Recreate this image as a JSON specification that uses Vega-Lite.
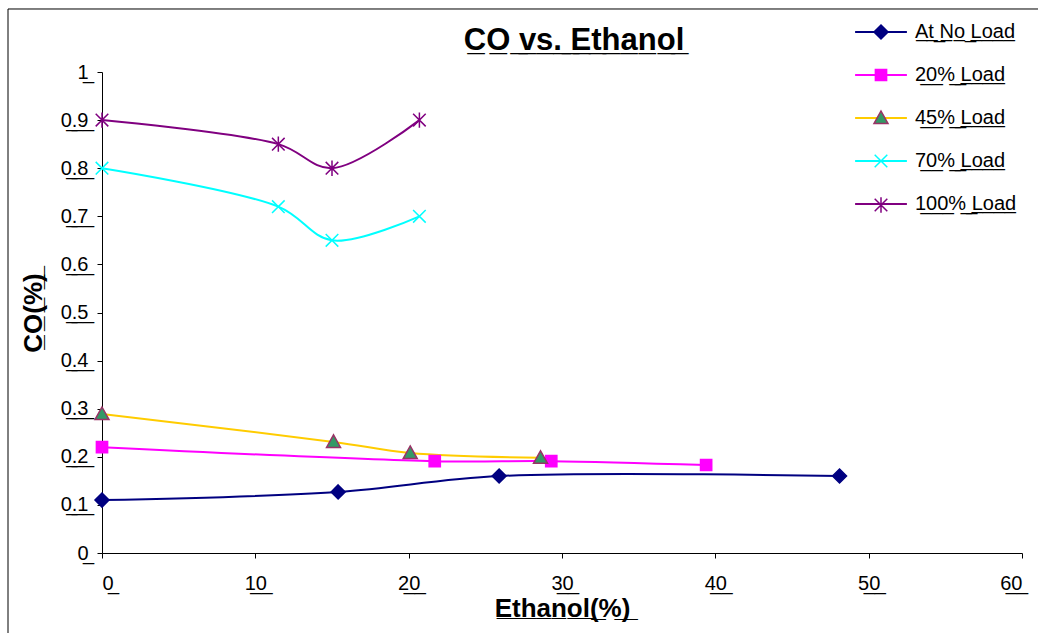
{
  "$schema": "https://vega.github.io/schema/vega-lite/v6.json",
  "width": 920,
  "height": 481,
  "autosize": {"type": "none"},
  "padding": {"left": 102, "top": 72, "right": 16, "bottom": 80},
  "background": "white",
  "config": {
    "view": {"stroke": null},
    "font": "Liberation Sans"
  },
  "title": {
    "text": "C\u0332O\u0332 \u0332v\u0332s\u0332.\u0332 \u0332E\u0332t\u0332h\u0332a\u0332n\u0332o\u0332l\u0332",
    "font": "Liberation Sans",
    "fontSize": 31,
    "fontWeight": "bold",
    "color": "black",
    "anchor": "middle",
    "frame": "group",
    "baseline": "alphabetic",
    "dx": 12,
    "offset": -73
  },
  "data": {
    "values": [
      {"series": "At No Load", "ethanol": 0, "co": 0.11},
      {"series": "At No Load", "ethanol": 15.4, "co": 0.127},
      {"series": "At No Load", "ethanol": 25.9, "co": 0.16},
      {"series": "At No Load", "ethanol": 48.1, "co": 0.16},
      {"series": "20% Load", "ethanol": 0, "co": 0.22},
      {"series": "20% Load", "ethanol": 21.7, "co": 0.191},
      {"series": "20% Load", "ethanol": 29.3, "co": 0.191},
      {"series": "20% Load", "ethanol": 39.4, "co": 0.183},
      {"series": "45% Load", "ethanol": 0, "co": 0.289},
      {"series": "45% Load", "ethanol": 15.1, "co": 0.231},
      {"series": "45% Load", "ethanol": 20.1, "co": 0.208},
      {"series": "45% Load", "ethanol": 28.6, "co": 0.198},
      {"series": "70% Load", "ethanol": 0, "co": 0.8},
      {"series": "70% Load", "ethanol": 11.5, "co": 0.72},
      {"series": "70% Load", "ethanol": 15, "co": 0.65},
      {"series": "70% Load", "ethanol": 20.7, "co": 0.7},
      {"series": "100% Load", "ethanol": 0, "co": 0.9},
      {"series": "100% Load", "ethanol": 11.5, "co": 0.85},
      {"series": "100% Load", "ethanol": 15, "co": 0.8},
      {"series": "100% Load", "ethanol": 20.7, "co": 0.9}
    ]
  },
  "layer": [
    {
      "data": {"values": [{}]},
      "mark": {"type": "rect", "fillOpacity": 0, "stroke": "black", "strokeWidth": 1, "clip": false},
      "encoding": {
        "x": {"datum": -6.13, "type": "quantitative"},
        "x2": {"datum": 61.5},
        "y": {"datum": 1.131, "type": "quantitative"},
        "y2": {"datum": -0.18}
      }
    },
    {
      "mark": {"type": "line", "interpolate": "catmull-rom", "strokeWidth": 2, "clip": false},
      "encoding": {
        "x": {
          "field": "ethanol",
          "type": "quantitative",
          "scale": {"domain": [0, 60], "nice": false, "zero": false},
          "axis": {
            "values": [0, 10, 20, 30, 40, 50, 60],
            "labelExpr": "replace(format(datum.value, '~g'), regexp('(.)', 'g'), '$1\u0332')",
            "labelFont": "Liberation Sans",
            "labelFontSize": 20,
            "labelColor": "black",
            "labelPadding": 15,
            "tickSize": 5,
            "tickColor": "black",
            "domainColor": "black",
            "grid": false,
            "title": "E\u0332t\u0332h\u0332a\u0332n\u0332o\u0332l\u0332(\u0332%\u0332)\u0332",
            "titleFont": "Liberation Sans",
            "titleFontSize": 26,
            "titleFontWeight": "bold",
            "titleColor": "black",
            "titlePadding": 2
          }
        },
        "y": {
          "field": "co",
          "type": "quantitative",
          "scale": {"domain": [0, 1], "nice": false},
          "axis": {
            "values": [0, 0.1, 0.2, 0.3, 0.4, 0.5, 0.6, 0.7, 0.8, 0.9, 1],
            "labelExpr": "replace(format(datum.value, '~g'), regexp('(.)', 'g'), '$1\u0332')",
            "labelFont": "Liberation Sans",
            "labelFontSize": 20,
            "labelColor": "black",
            "labelPadding": 9,
            "tickSize": 5,
            "tickColor": "black",
            "domainColor": "black",
            "grid": false,
            "title": "C\u0332O\u0332(\u0332%\u0332)\u0332",
            "titleFont": "Liberation Sans",
            "titleFontSize": 26,
            "titleFontWeight": "bold",
            "titleColor": "black",
            "titlePadding": 14
          }
        },
        "stroke": {
          "field": "series",
          "type": "nominal",
          "scale": {
            "domain": ["At No Load", "20% Load", "45% Load", "70% Load", "100% Load"],
            "range": ["#000080", "#FF00FF", "#FFCC00", "#00FFFF", "#800080"]
          },
          "legend": {
            "orient": "none",
            "legendX": 769,
            "legendY": -50,
            "title": null,
            "padding": 0,
            "zindex": 1,
            "symbolType": "M-3.7,0H3.7",
            "symbolSize": 196,
            "symbolStrokeWidth": 2,
            "labelFont": "Liberation Sans",
            "labelFontSize": 20,
            "labelColor": "black",
            "labelOffset": 24,
            "labelExpr": "replace(datum.label, regexp('(.)', 'g'), '$1\u0332')",
            "rowPadding": 23
          }
        }
      }
    },
    {
      "mark": {"type": "point", "size": 196, "strokeWidth": 1.5, "opacity": 1, "fillOpacity": 1, "clip": false},
      "encoding": {
        "x": {"field": "ethanol", "type": "quantitative"},
        "y": {"field": "co", "type": "quantitative"},
        "shape": {
          "field": "series",
          "type": "nominal",
          "scale": {
            "domain": ["At No Load", "20% Load", "45% Load", "70% Load", "100% Load"],
            "range": [
              "M0,-1L1,0L0,1L-1,0Z",
              "M-0.8,-0.8H0.8V0.8H-0.8Z",
              "M0,-1L1,0.8H-1Z",
              "M-0.9,-0.9L0.9,0.9M-0.9,0.9L0.9,-0.9",
              "M-0.9,-0.9L0.9,0.9M-0.9,0.9L0.9,-0.9M0,-1.1V1.1"
            ]
          },
          "legend": {
            "orient": "none",
            "legendX": 769,
            "legendY": -50,
            "title": null,
            "padding": 0,
            "zindex": 2,
            "symbolSize": 196,
            "symbolStrokeWidth": 1.5,
            "labelFont": "Liberation Sans",
            "labelFontSize": 20,
            "labelOpacity": 0,
            "labelOffset": 24,
            "labelExpr": "replace(datum.label, regexp('(.)', 'g'), '$1\u0332')",
            "rowPadding": 23
          }
        },
        "fill": {
          "field": "series",
          "type": "nominal",
          "scale": {
            "domain": ["At No Load", "20% Load", "45% Load", "70% Load", "100% Load"],
            "range": ["#000080", "#FF00FF", "#339966", "#00FFFF", "#800080"]
          },
          "legend": {
            "orient": "none",
            "legendX": 769,
            "legendY": -50,
            "title": null,
            "padding": 0,
            "zindex": 2,
            "symbolSize": 196,
            "symbolStrokeWidth": 1.5,
            "labelFont": "Liberation Sans",
            "labelFontSize": 20,
            "labelOpacity": 0,
            "labelOffset": 24,
            "labelExpr": "replace(datum.label, regexp('(.)', 'g'), '$1\u0332')",
            "rowPadding": 23
          }
        },
        "stroke": {
          "field": "series",
          "type": "nominal",
          "scale": {
            "domain": ["At No Load", "20% Load", "45% Load", "70% Load", "100% Load"],
            "range": ["#000080", "#FF00FF", "#993366", "#00FFFF", "#800080"]
          },
          "legend": {
            "orient": "none",
            "legendX": 769,
            "legendY": -50,
            "title": null,
            "padding": 0,
            "zindex": 2,
            "symbolSize": 196,
            "symbolStrokeWidth": 1.5,
            "labelFont": "Liberation Sans",
            "labelFontSize": 20,
            "labelOpacity": 0,
            "labelOffset": 24,
            "labelExpr": "replace(datum.label, regexp('(.)', 'g'), '$1\u0332')",
            "rowPadding": 23
          }
        }
      }
    }
  ],
  "resolve": {
    "scale": {"stroke": "independent"},
    "legend": {"stroke": "independent", "shape": "independent", "fill": "independent"}
  }
}
